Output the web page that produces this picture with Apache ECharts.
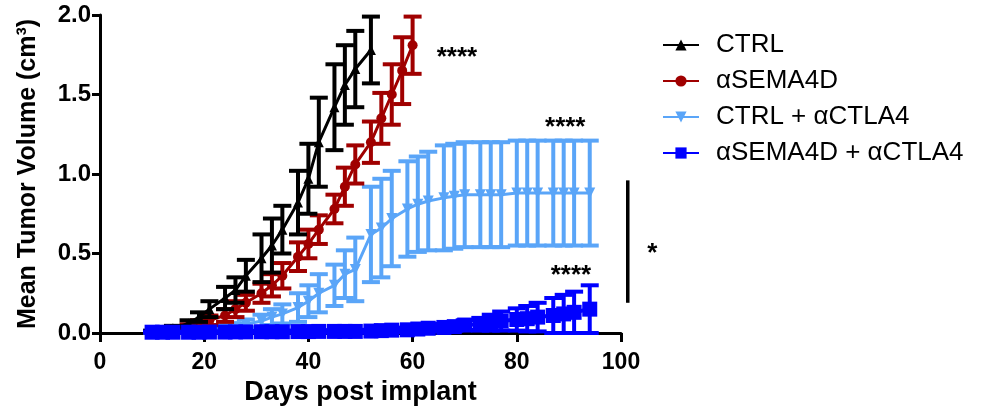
<!DOCTYPE html>
<html>
<head>
<meta charset="utf-8">
<script src="https://cdn.jsdelivr.net/npm/echarts@6/dist/echarts.min.js"></script>
<style>
  html, body { margin: 0; padding: 0; background: #fff; }
  #main { width: 991px; height: 406px; }
</style>
</head>
<body>
<div id="main"></div>
<script>
var chartDom = document.getElementById('main');
var myChart = echarts.init(chartDom);
var option;

// days post implant
var daysCtrl = [10, 12, 14, 17, 19, 21, 24, 26, 28, 31, 33, 35, 38, 40, 42, 45, 47, 49, 52];
var meanCtrl = [0.01, 0.02, 0.03, 0.06, 0.1, 0.15, 0.22, 0.27, 0.36, 0.47, 0.55, 0.65, 0.82, 0.97, 1.2, 1.42, 1.56, 1.66, 1.78];
var semCtrl = [0.005, 0.01, 0.015, 0.02, 0.03, 0.05, 0.07, 0.08, 0.1, 0.15, 0.17, 0.15, 0.2, 0.22, 0.28, 0.27, 0.25, 0.24, 0.21];

var daysSema = [12, 14, 17, 19, 21, 24, 26, 28, 31, 33, 35, 38, 40, 42, 45, 47, 49, 52, 54, 56, 58, 60];
var meanSema = [0.01, 0.02, 0.04, 0.06, 0.08, 0.11, 0.15, 0.19, 0.25, 0.3, 0.36, 0.48, 0.56, 0.65, 0.78, 0.92, 1.06, 1.2, 1.35, 1.5, 1.65, 1.81];
var semSema = [0.005, 0.01, 0.015, 0.02, 0.03, 0.04, 0.05, 0.05, 0.06, 0.07, 0.08, 0.09, 0.09, 0.09, 0.09, 0.12, 0.12, 0.13, 0.16, 0.19, 0.21, 0.18];

var daysLong = [10, 12, 14, 17, 19, 21, 24, 26, 28, 31, 33, 35, 38, 40, 42, 45, 47, 49, 52, 54, 56, 59, 61, 63, 66, 68, 70, 73, 75, 77, 80, 82, 84, 87, 89, 91, 94];
var meanCtla = [0.005, 0.005, 0.008, 0.01, 0.015, 0.02, 0.03, 0.04, 0.055, 0.075, 0.1, 0.12, 0.16, 0.2, 0.25, 0.3, 0.37, 0.4, 0.62, 0.66, 0.72, 0.78, 0.81, 0.83, 0.85, 0.86, 0.87, 0.87, 0.87, 0.87, 0.88, 0.88, 0.88, 0.88, 0.88, 0.88, 0.88];
var semCtla = [0.003, 0.003, 0.005, 0.006, 0.008, 0.01, 0.015, 0.02, 0.03, 0.04, 0.05, 0.06, 0.09, 0.1, 0.12, 0.13, 0.15, 0.2, 0.3, 0.31, 0.3, 0.3, 0.3, 0.31, 0.33, 0.33, 0.33, 0.33, 0.33, 0.33, 0.33, 0.33, 0.33, 0.33, 0.33, 0.33, 0.33];
var meanCombo = [0.005, 0.005, 0.005, 0.005, 0.005, 0.006, 0.006, 0.007, 0.007, 0.008, 0.008, 0.008, 0.009, 0.009, 0.01, 0.01, 0.01, 0.01, 0.012, 0.015, 0.018, 0.02, 0.025, 0.03, 0.035, 0.04, 0.05, 0.055, 0.065, 0.075, 0.085, 0.09, 0.1, 0.11, 0.12, 0.13, 0.15];
var semCombo = [0.003, 0.003, 0.003, 0.003, 0.003, 0.003, 0.004, 0.004, 0.004, 0.005, 0.005, 0.005, 0.006, 0.006, 0.006, 0.007, 0.007, 0.008, 0.008, 0.01, 0.012, 0.014, 0.016, 0.02, 0.022, 0.025, 0.03, 0.04, 0.05, 0.06, 0.07, 0.08, 0.09, 0.11, 0.12, 0.13, 0.15];

var groupNames = ['CTRL', 'αSEMA4D', 'CTRL + αCTLA4', 'αSEMA4D + αCTLA4'];
var groupColors = ['#000000', '#a00000', '#5aa5f8', '#0000ff'];

// significance marks: [day, value, text]
var starMarks = [
  [68.5, 1.73, '****'],
  [89.3, 1.29, '****'],
  [90.4, 0.36, '****'],
  [106, 0.5, '*']
];
var sigBar = [[101.3, 0.96], [101.3, 0.19]];

var font = 'Liberation Sans, Arial, sans-serif';

function errorSeries(name, color, days, mean, sem, z) {
  return {
    name: name + ' SEM',
    type: 'custom',
    z: z,
    data: days.map((d, i) => [d, mean[i], sem[i]]),
    encode: { x: 0, y: 1 },
    itemStyle: { color: color },
    renderItem: function (params, api) {
      var x = api.value(0), m = api.value(1), s = api.value(2);
      var hi = api.coord([x, m + s]);
      var lo = api.coord([x, Math.max(0, m - s)]);
      var w = 9;
      var st = { stroke: color, lineWidth: 4 };
      return {
        type: 'group',
        children: [
          { type: 'line', shape: { x1: hi[0], y1: hi[1], x2: lo[0], y2: lo[1] }, style: st },
          { type: 'line', shape: { x1: hi[0] - w, y1: hi[1], x2: hi[0] + w, y2: hi[1] }, style: st },
          { type: 'line', shape: { x1: lo[0] - w, y1: lo[1], x2: lo[0] + w, y2: lo[1] }, style: st }
        ]
      };
    }
  };
}

function lineSeries(name, color, days, mean, symbol, size, rotate, width, z) {
  return {
    name: name,
    type: 'line',
    z: z,
    data: days.map((d, i) => [d, mean[i]]),
    symbol: symbol,
    symbolSize: size,
    symbolRotate: rotate,
    showAllSymbol: true,
    itemStyle: { color: color },
    lineStyle: { color: color, width: width }
  };
}

option = {
  animation: false,
  backgroundColor: '#ffffff',
  grid: { left: 100, right: 370, top: 15, bottom: 73, outerBoundsMode: 'none' },
  legend: {
    data: groupNames,
    orient: 'vertical',
    left: 657,
    top: 27,
    itemWidth: 36,
    itemHeight: 14,
    itemGap: 10,
    textStyle: { fontFamily: font, fontSize: 26, color: '#000', padding: [0, 0, 0, 12] }
  },
  xAxis: {
    type: 'value',
    min: 0,
    max: 100,
    interval: 20,
    name: 'Days post implant',
    nameLocation: 'middle',
    nameGap: 43,
    nameTextStyle: { fontFamily: font, fontSize: 27, fontWeight: 'bold', color: '#000' },
    axisLine: { lineStyle: { color: '#000', width: 3 } },
    axisTick: { length: 9, lineStyle: { width: 3 } },
    axisLabel: { fontFamily: font, fontSize: 23, fontWeight: 'bold', color: '#000', margin: 18 },
    splitLine: { show: false }
  },
  yAxis: {
    type: 'value',
    min: 0,
    max: 2,
    interval: 0.5,
    name: 'Mean Tumor Volume (cm³)',
    nameLocation: 'middle',
    nameGap: 59,
    nameTextStyle: { fontFamily: font, fontSize: 25, fontWeight: 'bold', color: '#000' },
    axisLine: { show: true, lineStyle: { color: '#000', width: 3 } },
    axisTick: { show: true, length: 8, lineStyle: { width: 3 } },
    axisLabel: {
      fontFamily: font, fontSize: 24, fontWeight: 'bold', color: '#000', margin: 9,
      formatter: (v) => v.toFixed(1)
    },
    splitLine: { show: false }
  },
  series: [
    errorSeries('CTRL + αCTLA4', groupColors[2], daysLong, meanCtla, semCtla, 2),
    lineSeries('CTRL + αCTLA4', groupColors[2], daysLong, meanCtla, 'triangle', 11, 180, 3, 3),
    errorSeries('αSEMA4D', groupColors[1], daysSema, meanSema, semSema, 4),
    lineSeries('αSEMA4D', groupColors[1], daysSema, meanSema, 'circle', 10, 0, 3, 5),
    errorSeries('CTRL', groupColors[0], daysCtrl, meanCtrl, semCtrl, 6),
    lineSeries('CTRL', groupColors[0], daysCtrl, meanCtrl, 'triangle', 10, 0, 3, 7),
    errorSeries('αSEMA4D + αCTLA4', groupColors[3], daysLong, meanCombo, semCombo, 8),
    lineSeries('αSEMA4D + αCTLA4', groupColors[3], daysLong, meanCombo, 'rect', 15, 0, 4, 9)
  ]
};

option && myChart.setOption(option);

// significance annotations placed through the axes
var barTop = myChart.convertToPixel({ gridIndex: 0 }, sigBar[0]);
var barBot = myChart.convertToPixel({ gridIndex: 0 }, sigBar[1]);
var graphics = [{
  type: 'line',
  shape: { x1: barTop[0], y1: barTop[1], x2: barBot[0], y2: barBot[1] },
  style: { stroke: '#000', lineWidth: 3.5 }
}];
starMarks.forEach(function (m) {
  var p = myChart.convertToPixel({ gridIndex: 0 }, [m[0], m[1]]);
  graphics.push({
    type: 'text',
    x: p[0],
    y: p[1],
    style: {
      text: m[2],
      fontFamily: font,
      fontSize: 26,
      fontWeight: 'bold',
      fill: '#000',
      align: 'center',
      verticalAlign: 'middle'
    }
  });
});
myChart.setOption({ graphic: graphics });

window.onresize = function () {
  myChart.resize();
};
</script>
</body>
</html>
